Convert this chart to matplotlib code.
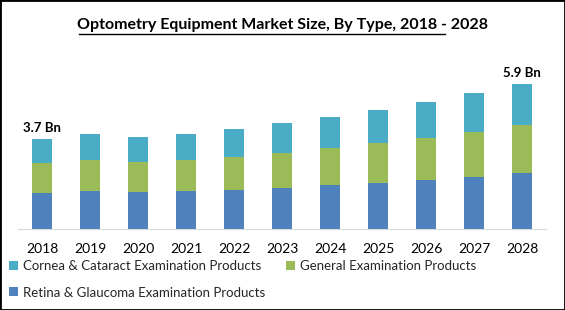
import matplotlib.pyplot as plt
import numpy as np
from matplotlib.patches import Rectangle

# --- données (Bn USD) ---
years = ["2018", "2019", "2020", "2021", "2022", "2023", "2024", "2025", "2026", "2027", "2028"]
retina = [1.47, 1.56, 1.51, 1.56, 1.60, 1.67, 1.80, 1.88, 2.00, 2.12, 2.29]
general = [1.22, 1.25, 1.22, 1.25, 1.33, 1.43, 1.51, 1.63, 1.71, 1.84, 1.96]
cornea = [0.98, 1.06, 1.02, 1.06, 1.14, 1.22, 1.27, 1.35, 1.47, 1.59, 1.67]
labels = ["Cornea & Cataract Examination Products",
          "General Examination Products",
          "Retina & Glaucoma Examination Products"]
annotations = {0: "3.7 Bn", 10: "5.9 Bn"}

plt.rcParams['font.family'] = ['Lato', 'DejaVu Sans']

fig = plt.figure(figsize=(5.65, 3.1), dpi=100)
ax = fig.add_axes([18 / 565, 81 / 310, 528 / 565, 171.5 / 310])

x = np.arange(len(years))
w = 0.42
c_blue, c_green, c_teal = "#4F81BD", "#9BBB59", "#4BACC6"
b1 = ax.bar(x, retina, w, color=c_blue)
b2 = ax.bar(x, general, w, bottom=retina, color=c_green)
bot = np.array(retina) + np.array(general)
b3 = ax.bar(x, cornea, w, bottom=bot, color=c_teal)

totals = bot + np.array(cornea)
for i, txt in annotations.items():
    ax.text(x[i], totals[i] + 0.22, txt, ha="center", va="bottom",
            fontsize=9.5, fontweight="bold")

ax.set_xlim(-0.5, len(years) - 0.5)
ax.set_ylim(0, 7)
ax.set_xticks(x)
ax.set_xticklabels(years, fontsize=10)
ax.tick_params(axis="x", length=0, pad=10)
ax.set_yticks([])
for s in ["top", "left", "right"]:
    ax.spines[s].set_visible(False)
ax.spines["bottom"].set_color("#d9d9d9")

fig.text(0.5, 1 - 25 / 310, "Optometry Equipment Market Size, By Type, 2018 - 2028",
         ha="center", va="center", fontsize=11.5, fontweight="bold")
# soulignement du titre
fig.add_artist(plt.Line2D([79 / 565, 445 / 565], [1 - 33.5 / 310] * 2, color="black", lw=1.0))

leg = fig.legend([b3, b1, b2], [labels[0], labels[2], labels[1]], ncol=2,
                 loc="upper left", bbox_to_anchor=(9 / 565, 1 - 260 / 310),
                 frameon=False, fontsize=9.5, handlelength=0.65, handleheight=0.65,
                 handletextpad=0.4, labelspacing=1.1, columnspacing=1.6,
                 borderaxespad=0, borderpad=0)
for t in leg.get_texts():
    t.set_color("#262626")

fig.add_artist(Rectangle((0, 0), 1, 1, transform=fig.transFigure, fill=False,
                         edgecolor="black", lw=2))

fig.savefig("out.png", dpi=100)
